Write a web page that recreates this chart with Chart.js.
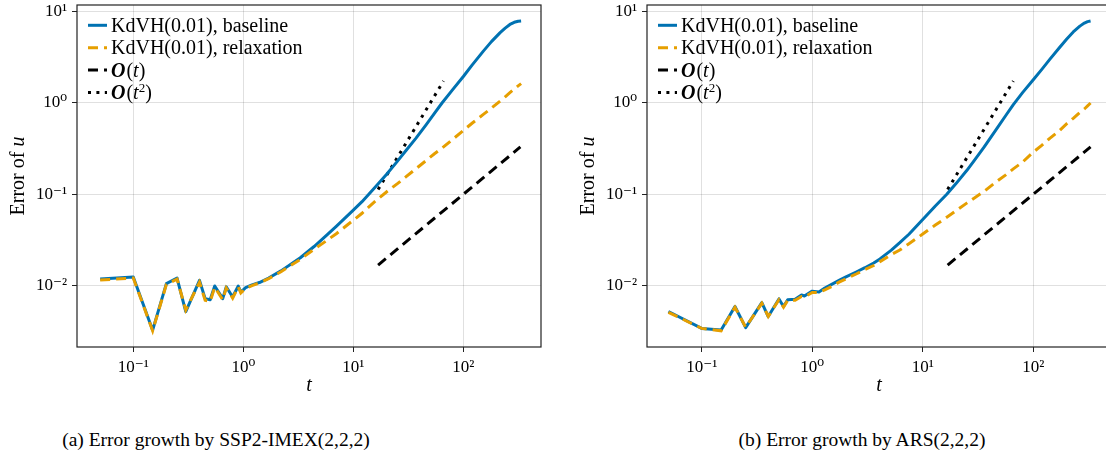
<!DOCTYPE html>
<html lang="en">
<head>
<meta charset="utf-8" />
<title>Error growth</title>
<script src="https://cdn.jsdelivr.net/npm/chart.js"></script>
<style>
    body { margin: 0; width: 1106px; height: 455px; overflow: hidden; background: #fff; position: relative;
           font-family: "Liberation Serif", "DejaVu Serif", serif; }
    canvas { position: absolute; top: 0; }
    #chartA { left: 0; }
    #chartB { left: 570px; }
    .caption { position: absolute; top: 430px; font-size: 19.5px; line-height: 20px; color: #000;
               white-space: nowrap; transform: translateX(-50%); }
</style>
</head>
<body>
<canvas id="chartA" width="553" height="400"></canvas>
<canvas id="chartB" width="553" height="400"></canvas>
<div class="caption" style="left:216px">(a) Error growth by SSP2-IMEX(2,2,2)</div>
<div class="caption" style="left:862px">(b) Error growth by ARS(2,2,2)</div>

<script>
// values
// (a) SSP2-IMEX(2,2,2)
const tA = [0.05, 0.1, 0.15, 0.2, 0.25, 0.3, 0.4, 0.45, 0.5, 0.55, 0.65, 0.7, 0.8, 0.9, 0.95,
            1.05, 1.2, 1.4, 1.7, 2.2, 3.3, 4.4, 5.7, 7, 10, 12, 13.7, 16, 20, 25, 30, 37, 46, 55,
            64, 80, 100, 120, 152, 180, 216, 240, 265, 290, 315, 335];
const baselineA = [0.0118, 0.0124, 0.00325, 0.0105, 0.0121, 0.0052, 0.0114, 0.0072, 0.0070, 0.0099,
                   0.0072, 0.0097, 0.0075, 0.0099, 0.0085, 0.0095, 0.0102, 0.0108, 0.0121, 0.0145,
                   0.0202, 0.0268, 0.0355, 0.0445, 0.067, 0.083, 0.099, 0.122, 0.165, 0.228, 0.30,
                   0.41, 0.58, 0.78, 1.0, 1.4, 1.95, 2.6, 3.7, 4.7, 5.9, 6.6, 7.25, 7.65, 7.85, 7.9];
const relaxA = [0.0115, 0.0121, 0.0032, 0.0103, 0.0118, 0.0054, 0.0109, 0.0069, 0.0067, 0.0096,
                0.0070, 0.0094, 0.0073, 0.0097, 0.0083, 0.0093, 0.0100, 0.0107, 0.0119, 0.0142,
                0.0194, 0.0250, 0.031, 0.037, 0.052, 0.062, 0.072, 0.085, 0.106, 0.13, 0.155,
                0.19, 0.235, 0.28, 0.32, 0.40, 0.50, 0.60, 0.75, 0.88, 1.05, 1.17, 1.30, 1.42,
                1.54, 1.63];

// (b) ARS(2,2,2)
const tB = [0.05, 0.1, 0.15, 0.2, 0.25, 0.35, 0.4, 0.5, 0.55, 0.6, 0.7, 0.8, 0.85, 1.0, 1.15, 1.3,
            1.5, 1.75, 2.0, 2.5, 3.0, 3.6, 4.1, 5.2, 6.2, 7.5, 10, 13, 16.5, 20, 25, 30, 36, 46.6,
            56, 66, 80, 100, 120, 141, 170, 200, 230, 264, 290, 310, 330];
const baselineB = [0.0052, 0.0034, 0.00327, 0.0059, 0.00347, 0.0065, 0.00458, 0.00715, 0.0059, 0.0070,
                   0.0071, 0.0079, 0.0077, 0.0087, 0.0085, 0.0094, 0.0103, 0.0114, 0.0124, 0.0141,
                   0.0157, 0.0177, 0.0196, 0.0245, 0.0295, 0.0365, 0.053, 0.0745, 0.1, 0.131, 0.182,
                   0.245, 0.33, 0.52, 0.72, 0.96, 1.3, 1.8, 2.35, 3.0, 3.95, 5.0, 6.0, 6.95, 7.5,
                   7.78, 7.9];
const relaxB = [0.0051, 0.0034, 0.0032, 0.0058, 0.0035, 0.0064, 0.0046, 0.0070, 0.0058, 0.0069,
                0.0069, 0.0076, 0.0075, 0.0084, 0.0084, 0.0090, 0.0098, 0.0109, 0.0118, 0.0134,
                0.0150, 0.0166, 0.0183, 0.0219, 0.0245, 0.0287, 0.0367, 0.046, 0.056, 0.066, 0.080,
                0.093, 0.108, 0.138, 0.162, 0.19, 0.225, 0.29, 0.345, 0.41, 0.49, 0.59, 0.68, 0.79,
                0.86, 0.93, 1.0];

// guide lines O(t) and O(t^2), end points
const tOrder1 = [16.8, 330];
const order1 = [0.0168, 0.33];
const tOrder2 = [16.8, 66];
const order2 = [0.113, 1.74];

const xTicks = [0.1, 1, 10, 100];
const yTicks = [0.01, 0.1, 1, 10];
const labels = ['KdVH(0.01), baseline', 'KdVH(0.01), relaxation', 'O(t)', 'O(t2)'];

const SERIF = '"Liberation Serif", "DejaVu Serif", serif';
const SUP = { '-': '⁻', '0': '⁰', '1': '¹', '2': '²', '3': '³' };

function pow10(v) {
    const e = Math.round(Math.log10(v));
    return '10' + String(e).split('').map(c => SUP[c]).join('');
}

function pts(t, y) {
    return t.map((x, i) => ({ x: x, y: y[i] }));
}

// pieces of the legend text: [text, style]
function legendParts(label) {
    if (label.startsWith('O(')) {
        const parts = [['O', 'bold italic'], ['(', ''], ['t', 'italic']];
        if (label.indexOf('2') > 0) parts.push(['2', 'sup']);
        parts.push([')', '']);
        return parts;
    }
    return [[label, '']];
}

const decorations = {
    id: 'decorations',
    afterDatasetsDraw(chart) {
        const ctx = chart.ctx;
        const a = chart.chartArea;
        ctx.save();

        // axis box
        ctx.strokeStyle = '#222';
        ctx.lineWidth = 1.2;
        ctx.setLineDash([]);
        ctx.strokeRect(a.left, a.top, a.right - a.left, a.bottom - a.top);

        // legend inside the top left corner
        chart.data.datasets.forEach((ds, i) => {
            const cy = a.top + 20.3 + i * 22.4;
            ctx.beginPath();
            ctx.strokeStyle = ds.borderColor;
            ctx.lineWidth = ds.borderWidth;
            ctx.setLineDash(ds.borderDash || []);
            ctx.moveTo(a.left + 11, cy);
            ctx.lineTo(a.left + 30, cy);
            ctx.stroke();
            ctx.setLineDash([]);

            ctx.fillStyle = '#000';
            ctx.textBaseline = 'alphabetic';
            ctx.textAlign = 'left';
            let x = a.left + 34;
            legendParts(ds.label).forEach(([txt, style]) => {
                if (style === 'sup') {
                    ctx.font = '13px ' + SERIF;
                    ctx.fillText(txt, x, cy - 1);
                } else {
                    ctx.font = (style ? style + ' ' : '') + '20px ' + SERIF;
                    ctx.fillText(txt, x, cy + 6.6);
                }
                x += ctx.measureText(txt).width + (style === 'bold italic' ? 1 : 0);
            });
        });

        // axis titles
        ctx.fillStyle = '#000';
        ctx.textBaseline = 'middle';
        ctx.textAlign = 'center';
        ctx.font = 'italic 20px ' + SERIF;
        ctx.fillText('t', (a.left + a.right) / 2, 386);

        ctx.translate(a.left - 58, (a.top + a.bottom) / 2);
        ctx.rotate(-Math.PI / 2);
        ctx.font = '20px ' + SERIF;
        const w1 = ctx.measureText('Error of ').width;
        ctx.font = 'italic 20px ' + SERIF;
        const w2 = ctx.measureText('u').width;
        ctx.textAlign = 'left';
        ctx.font = '20px ' + SERIF;
        ctx.fillText('Error of ', -(w1 + w2) / 2, 0);
        ctx.font = 'italic 20px ' + SERIF;
        ctx.fillText('u', -(w1 + w2) / 2 + w1, 0);
        ctx.restore();
    }
};

function makeChart(id, t, base, relax, xmin, xmax) {
    const line = { pointRadius: 0, borderWidth: 3, tension: 0, fill: false };
    return new Chart(document.getElementById(id), {
        type: 'line',
        data: {
            datasets: [
                Object.assign({ label: labels[0], data: pts(t, base), borderColor: '#0072b2',
                                borderJoinStyle: 'round', order: 1 }, line),
                Object.assign({ label: labels[1], data: pts(t, relax), borderColor: '#e69f00',
                                borderDash: [10, 6], order: 0 }, line),
                Object.assign({ label: labels[2], data: pts(tOrder1, order1), borderColor: '#000',
                                borderDash: [10, 6], order: 2 }, line),
                Object.assign({ label: labels[3], data: pts(tOrder2, order2), borderColor: '#000',
                                borderDash: [3, 5.4], order: 3 }, line)
            ]
        },
        options: {
            responsive: false,
            animation: false,
            events: [],
            layout: { padding: { top: 5, right: 12, left: 0, bottom: 0 } },
            plugins: { legend: { display: false }, tooltip: { enabled: false } },
            scales: {
                x: {
                    type: 'logarithmic',
                    min: xmin,
                    max: xmax,
                    afterFit: s => { s.height = 53; s.paddingLeft = 0; s.paddingRight = 0; },
                    afterBuildTicks: s => { s.ticks = xTicks.map(v => ({ value: v })); },
                    grid: { color: 'rgba(0,0,0,0.12)', tickColor: '#222', tickLength: 5, lineWidth: 1 },
                    border: { display: false },
                    ticks: { callback: v => pow10(v), color: '#000', padding: 5, maxRotation: 0,
                             autoSkip: false, font: { family: SERIF, size: 17 } }
                },
                y: {
                    type: 'logarithmic',
                    min: 0.002126,
                    max: 11.84,
                    afterFit: s => { s.width = 77; s.paddingTop = 0; s.paddingBottom = 0; },
                    afterBuildTicks: s => { s.ticks = yTicks.map(v => ({ value: v })); },
                    grid: { color: 'rgba(0,0,0,0.12)', tickColor: '#222', tickLength: 5, lineWidth: 1 },
                    border: { display: false },
                    ticks: { callback: v => pow10(v), color: '#000', padding: 5, autoSkip: false,
                             font: { family: SERIF, size: 17 } }
                }
            }
        },
        plugins: [decorations]
    });
}

makeChart('chartA', tA, baselineA, relaxA, 0.0308, 508);
makeChart('chartB', tB, baselineB, relaxB, 0.032, 505);
</script>
</body>
</html>
